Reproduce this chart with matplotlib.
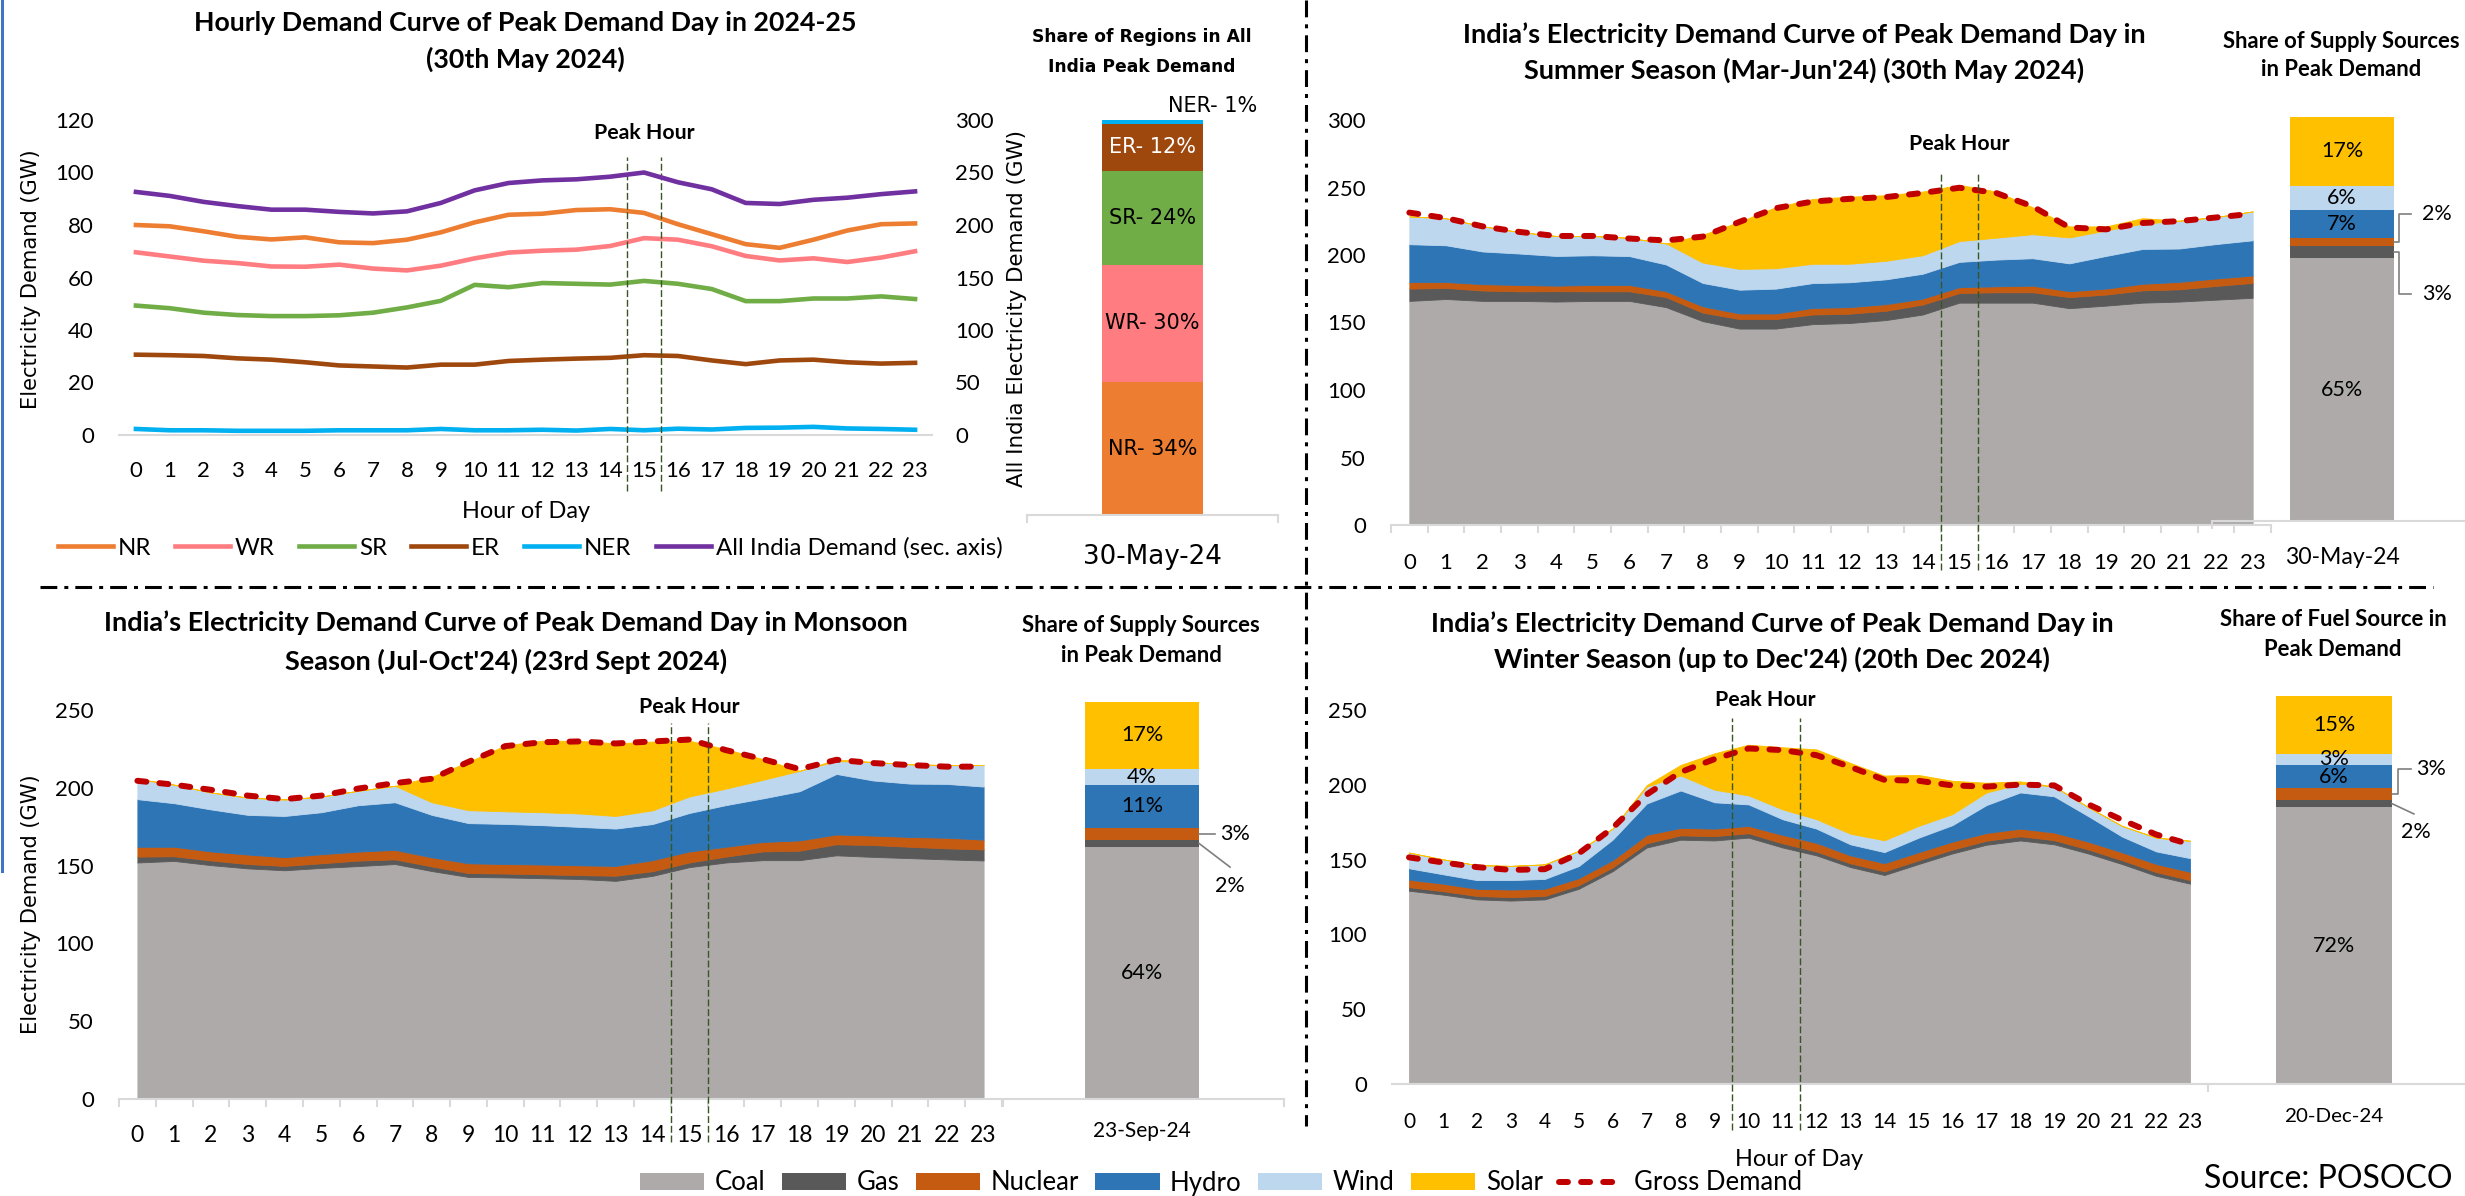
import numpy as np
import matplotlib
matplotlib.use("Agg")
import matplotlib.pyplot as plt
from matplotlib.lines import Line2D
from matplotlib.patches import Patch

plt.rcParams["font.family"] = ["Lato", "DejaVu Sans"]

W, H = 2465, 1196

hours = list(range(24))

# 30 May 2024 - hourly regional demand (GW)
nr = [80.0, 79.5, 77.6, 75.5, 74.5, 75.3, 73.4, 73.1, 74.4, 77.2, 81.0, 83.9,
      84.3, 85.7, 86.0, 84.6, 80.3, 76.5, 72.7, 71.3, 74.4, 77.9, 80.3, 80.6]
wr = [69.6, 68.0, 66.4, 65.5, 64.2, 64.1, 64.9, 63.4, 62.7, 64.5, 67.3, 69.5,
      70.2, 70.6, 72.0, 75.0, 74.4, 71.9, 68.2, 66.5, 67.3, 65.9, 67.6, 70.0]
sr = [49.3, 48.3, 46.6, 45.7, 45.3, 45.3, 45.6, 46.6, 48.6, 51.1, 57.2, 56.3,
      57.9, 57.6, 57.3, 58.7, 57.6, 55.6, 51.0, 51.0, 52.0, 52.0, 52.8, 51.8]
er = [30.6, 30.4, 30.1, 29.2, 28.7, 27.7, 26.5, 26.1, 25.7, 26.8, 26.8, 28.2,
      28.7, 29.1, 29.4, 30.4, 30.1, 28.4, 27.0, 28.4, 28.7, 27.7, 27.2, 27.5]
ner = [2.3, 1.8, 1.8, 1.6, 1.6, 1.6, 1.8, 1.8, 1.8, 2.3, 1.8, 1.8,
       2.0, 1.7, 2.3, 1.8, 2.4, 2.1, 2.7, 2.8, 3.1, 2.5, 2.3, 2.0]
all_india = [231.5, 227.7, 222.0, 218.0, 214.6, 214.6, 212.5, 211.0, 213.0, 221.0, 233.0, 240.0,
             242.5, 243.5, 246.0, 250.0, 240.7, 234.0, 221.0, 220.0, 224.0, 226.0, 229.4, 232.0]
region_names = ["NR", "WR", "SR", "ER", "NER"]
region_share = [34, 30, 24, 12, 1]

# summer peak day (30 May 2024) - supply by source (GW)
summer_coal = [166.0, 167.4, 166.0, 166.0, 165.5, 166.0, 166.0, 161.4, 151.0, 145.5, 145.5, 148.8,
               149.6, 151.8, 155.9, 164.7, 164.7, 164.7, 160.6, 162.5, 164.7, 165.5, 166.9, 168.3]
summer_gas = [9.1, 8.2, 7.7, 7.1, 7.7, 7.1, 7.1, 7.4, 6.3, 7.1, 7.1, 7.1,
              6.9, 6.9, 7.4, 7.1, 7.7, 7.7, 8.2, 8.2, 9.1, 9.1, 10.2, 11.0]
summer_nuclear = [4.9, 4.4, 4.7, 4.7, 4.1, 4.7, 4.7, 4.4, 4.7, 4.1, 4.1, 4.9,
                  4.9, 4.9, 4.4, 4.4, 4.4, 4.9, 4.4, 4.4, 4.9, 5.5, 5.5, 5.5]
summer_hydro = [28.0, 27.2, 24.2, 23.3, 22.0, 22.0, 21.4, 19.8, 17.3, 17.6, 18.4, 18.4,
                18.4, 18.4, 18.4, 18.7, 19.8, 20.3, 20.6, 24.2, 25.8, 24.7, 25.5, 26.1]
summer_wind = [20.6, 20.0, 18.7, 15.9, 14.8, 14.3, 13.5, 15.6, 15.1, 15.4, 15.1, 14.3,
               13.7, 13.7, 13.7, 15.4, 16.2, 17.8, 19.2, 18.9, 18.7, 20.6, 20.0, 21.4]
summer_solar = [0, 0, 0, 0, 0, 0, 0, 0, 20.6, 34.9, 45.3, 48.0,
                49.7, 48.6, 47.2, 41.7, 34.3, 20.0, 8.2, 3.0, 4.1, 0, 0, 0]
summer_gross = [231.4, 227.3, 221.2, 217.1, 214.1, 214.1, 212.2, 210.8, 213.6, 224.5, 234.7, 239.6,
                241.6, 242.9, 246.0, 249.8, 246.0, 236.0, 220.4, 219.0, 223.7, 225.1, 227.8, 230.6]
summer_share = [65, 3, 2, 7, 6, 17]

# monsoon peak day (23 Sep 2024)
monsoon_coal = [152.0, 153.0, 150.3, 148.2, 147.0, 148.5, 149.7, 151.0, 146.5, 142.7, 142.4, 141.9,
                141.4, 140.2, 143.4, 149.0, 152.0, 153.5, 153.5, 156.6, 155.6, 154.8, 154.0, 153.3]
monsoon_gas = [3.8, 3.0, 3.0, 2.8, 2.8, 3.0, 3.5, 3.0, 3.0, 2.5, 2.5, 2.5,
               2.5, 3.3, 3.0, 3.0, 3.8, 5.6, 6.1, 7.1, 7.6, 7.3, 7.1, 7.1]
monsoon_nuclear = [6.3, 6.1, 5.8, 6.1, 5.6, 5.8, 5.8, 6.1, 5.8, 6.3, 6.1, 6.3,
                   6.3, 6.3, 7.1, 7.1, 6.3, 6.1, 6.6, 6.3, 6.1, 6.3, 6.8, 6.3]
monsoon_hydro = [30.6, 28.0, 27.0, 25.5, 26.5, 27.0, 29.8, 30.6, 27.3, 25.8, 25.8, 25.3,
                 24.7, 24.0, 23.2, 24.7, 26.8, 28.0, 31.6, 38.9, 35.4, 34.3, 34.6, 34.1]
monsoon_wind = [13.1, 11.9, 10.9, 11.1, 10.6, 10.1, 9.3, 10.6, 8.1, 8.3, 8.1, 8.3,
                8.6, 8.1, 8.8, 10.6, 10.6, 11.9, 13.1, 8.3, 11.9, 12.4, 12.1, 13.9]
monsoon_solar = [0, 0, 0, 0, 0, 0, 0, 0, 16.4, 31.1, 42.4, 46.0,
                 46.7, 46.7, 44.2, 35.9, 25.3, 13.4, 0, 1.0, 0, 0, 0, 0]
monsoon_gross = [204.5, 202.0, 198.7, 195.0, 192.7, 195.0, 199.5, 203.0, 205.8, 216.7, 226.8, 229.3,
                 229.8, 228.5, 229.8, 231.0, 224.2, 218.4, 212.0, 218.0, 215.9, 214.6, 213.6, 213.6]
monsoon_share = [64, 2, 3, 11, 4, 17]

# winter peak day (20 Dec 2024)
winter_coal = [129.2, 126.6, 123.4, 122.6, 123.4, 130.5, 142.3, 158.1, 163.3, 162.8, 164.7, 158.1,
               152.8, 145.0, 139.7, 147.0, 154.1, 159.9, 162.8, 160.2, 154.1, 147.0, 139.2, 133.9]
winter_gas = [2.4, 2.3, 2.3, 2.3, 2.3, 2.4, 2.5, 2.8, 2.9, 2.9, 2.9, 2.8,
              2.6, 2.5, 2.5, 2.5, 2.6, 2.7, 2.8, 2.8, 2.7, 2.6, 2.5, 2.4]
winter_nuclear = [5.0, 5.0, 4.8, 5.1, 4.8, 4.7, 4.9, 5.6, 5.0, 5.0, 4.9, 5.6,
                  5.8, 5.3, 5.4, 5.4, 5.3, 5.2, 5.1, 5.1, 5.2, 5.3, 5.4, 5.5]
winter_hydro = [7.6, 6.3, 5.8, 6.3, 6.6, 8.1, 13.7, 21.0, 25.0, 17.6, 14.4, 10.5,
                9.5, 7.4, 7.4, 9.7, 11.0, 18.6, 24.2, 24.2, 17.1, 10.5, 8.4, 9.2]
winter_wind = [10.5, 10.0, 10.0, 9.5, 9.7, 10.2, 7.4, 11.3, 10.0, 8.4, 6.0, 6.6,
               6.3, 7.1, 7.9, 7.9, 7.4, 8.4, 5.8, 6.6, 6.0, 7.1, 9.2, 11.6]
winter_solar = [0, 0, 0, 0, 0, 0, 0, 1.0, 7.1, 24.4, 33.9, 41.5,
                46.7, 47.3, 43.3, 34.1, 22.3, 6.6, 1.6, 0, 0, 0, 0, 0]
winter_gross = [151.5, 148.1, 145.0, 143.1, 143.6, 154.1, 171.2, 193.5, 208.5, 217.2, 224.3, 223.2,
                219.8, 211.9, 203.3, 202.7, 199.6, 198.8, 200.1, 199.6, 187.0, 176.5, 166.8, 160.2]
winter_share = [72, 2, 3, 6, 3, 15]

source_names = ["Coal", "Gas", "Nuclear", "Hydro", "Wind", "Solar"]
source_colors = ["#AEAAAA", "#595959", "#C55A11", "#2E75B6", "#BDD7EE", "#FFC000"]
region_colors = ["#ED7D31", "#FF7C80", "#70AD47", "#9E480E", "#00B0F0"]
INDIA_COLOR = "#7030A0"
GROSS_COLOR = "#C00000"
GROSS_STYLE = dict(color=GROSS_COLOR, lw=4.3, ls=(0, (1.5, 2.2)), dash_capstyle="round")
AXIS_GREY = "#D9D9D9"
PEAK_COLOR = "#375623"

fig = plt.figure(figsize=(W / 100, H / 100), dpi=100)
renderer = fig.canvas.get_renderer()


def box(x0, y0, x1, y1):
    return [x0 / W, 1 - y1 / H, (x1 - x0) / W, (y1 - y0) / H]


def put(x, y, s, span=None, **kw):
    """Figure text at pixel (x, y); if span is given, scale the font to that pixel length."""
    kw.setdefault("ha", "center")
    kw.setdefault("va", "center")
    t = fig.text(x / W, 1 - y / H, s, **kw)
    if span:
        ext = t.get_window_extent(renderer)
        size = ext.height if kw.get("rotation") == 90 else ext.width
        t.set_fontsize(t.get_fontsize() * span / size)
    return t


def two_lines(x, y1, y2, first, second, span, **kw):
    """Two-line heading; the first line sets the font size for both."""
    t = put(x, y1, first, span=span, **kw)
    kw["fontsize"] = t.get_fontsize()
    put(x, y2, second, **kw)


def fig_line(xs, ys, **kw):
    fig.add_artist(Line2D([x / W for x in xs], [1 - y / H for y in ys], **kw))


def strip(ax):
    for side in ("top", "right", "left"):
        ax.spines[side].set_visible(False)
    ax.spines["bottom"].set_color(AXIS_GREY)
    ax.spines["bottom"].set_linewidth(1.5)


def peak_lines(ax, x0, x1, lo, hi):
    for x in (x0, x1):
        ax.axvline(x, ymin=lo, ymax=hi, color=PEAK_COLOR, lw=1.0,
                   ls=(0, (5, 2)), clip_on=False, zorder=5)


def peak_label(ax, x, y):
    t = ax.text(x, y, "Peak Hour", ha="center", va="center", fontsize=14, fontweight="bold")
    t.set_fontsize(14 * 101 / t.get_window_extent(renderer).width)


# ---------------- hourly regional demand (top left) ----------------
ax = fig.add_axes(box(119, 120, 932, 435))
handles = []
for vals, col, name in zip([nr, wr, sr, er, ner], region_colors, region_names):
    handles += ax.plot(hours, vals, color=col, lw=3.3, label=name, solid_joinstyle="round")
ax.set_xlim(-0.5, 23.5)
ax.set_ylim(0, 120)
ax.set_xticks(hours)
ax.set_yticks(range(0, 121, 20))
strip(ax)
ax.tick_params(axis="both", length=0, labelsize=16)
ax.tick_params(axis="y", pad=18)
ax.tick_params(axis="x", pad=19)
ax2 = ax.twinx()
handles += ax2.plot(hours, all_india, color=INDIA_COLOR, lw=3.3,
                    label="All India Demand (sec. axis)")
ax2.set_ylim(0, 300)
ax2.set_yticks(range(0, 301, 50))
for side in ax2.spines:
    ax2.spines[side].set_visible(False)
ax2.tick_params(axis="y", length=0, labelsize=16, pad=16.5)
peak_lines(ax, 14.5, 15.5, -0.178, 0.883)
peak_label(ax, 15, 115)

TITLE = dict(fontsize=19, fontweight="bold")
SUB = dict(fontsize=16, fontweight="bold")

two_lines(525, 23, 59, "Hourly Demand Curve of Peak Demand Day in 2024-25", "(30th May 2024)",
          661, **TITLE)
put(31, 279, "Electricity Demand (GW)", span=261, rotation=90, fontsize=14, family="DejaVu Sans")
put(526, 511, "Hour of Day", span=128, fontsize=17)
fig.legend(handles, [h.get_label() for h in handles], loc="center",
           bbox_to_anchor=(530 / W, 1 - 548 / H), ncol=6, frameon=False,
           fontsize=17.3, handlelength=2.3, handletextpad=0.2, columnspacing=1.0)


# ---------------- share bars ----------------
def share_bar(rect, values, colors, center, width, top, date, date_y, date_span, date_kw):
    bx = fig.add_axes(box(*rect))
    bx.patch.set_visible(False)
    bottoms = np.concatenate([[0], np.cumsum(values)[:-1]])
    bx.bar([center] * len(values), values, width=width, bottom=bottoms,
           color=colors, linewidth=0)
    bx.set_xlim(0, 1)
    bx.set_ylim(0, top)
    strip(bx)
    bx.set_yticks([])
    bx.set_xticks([0, 1])
    bx.set_xticklabels([])
    bx.tick_params(axis="x", length=6, width=1.5, color=AXIS_GREY)
    cx = rect[0] + center * (rect[2] - rect[0])
    put(cx, date_y, date, span=date_span, **date_kw)
    mids = bottoms + np.asarray(values) / 2
    return bx, mids, center + width / 2


# regional split of the all-India peak
bx, mids, edge = share_bar((1027, 120, 1278, 515), region_share, region_colors, 0.5, 0.40, 101,
                           "30-May-24", 557, 139, dict(fontsize=20, family="DejaVu Sans"))
for i, (name, pct) in enumerate(zip(region_names[:4], region_share[:4])):
    bx.text(0.5, mids[i], f"{name}- {pct}%", ha="center", va="center", fontsize=15,
            family="DejaVu Sans", color="white" if name == "ER" else "black")
bx.text(0.741, 104.7, f"{region_names[4]}- {region_share[4]}%", ha="center", va="center",
        fontsize=15, family="DejaVu Sans")
two_lines(1142, 37, 67, "Share of Regions in All", "India Peak Demand", 220,
          fontsize=12.5, fontweight="bold", family="DejaVu Sans")
put(1017, 308, "All India Electricity Demand (GW)", span=357, rotation=90, fontsize=14.5,
    family="DejaVu Sans")


def mix_labels(bx, share, mids):
    for i in (0, 3, 4, 5):
        p = bx.patches[i]
        bx.text(p.get_x() + p.get_width() / 2, mids[i], f"{share[i]}%",
                ha="center", va="center", fontsize=15.5)


def leader(bx, pts, txt, tx, ty, ha="center"):
    bx.plot([p[0] for p in pts], [p[1] for p in pts], color="#7F7F7F", lw=1.2, clip_on=False)
    bx.text(tx, ty, txt, ha=ha, va="center", fontsize=15.5)


# ---------------- seasonal supply mix charts ----------------
def season_chart(rect, stack, gross, ymax, tick_fs, xpad, span, lo, hi, label_xy, marks):
    sx = fig.add_axes(box(*rect))
    sx.stackplot(hours, *stack, colors=source_colors, linewidth=0.6, edgecolor="face")
    sx.plot(hours, gross, zorder=4, **GROSS_STYLE)
    sx.set_xlim(-0.5, 23.5)
    sx.set_ylim(0, ymax)
    sx.set_xticks(hours)
    sx.set_yticks(range(0, ymax + 1, 50))
    strip(sx)
    sx.tick_params(axis="x", length=0, labelsize=tick_fs, pad=xpad)
    sx.tick_params(axis="y", length=0, labelsize=16, pad=18)
    if marks:
        sx.set_xticks(np.arange(-0.5, 24, 1), minor=True)
        sx.tick_params(axis="x", which="minor", length=6, width=1.5, color=AXIS_GREY)
    peak_lines(sx, span[0], span[1], lo, hi)
    peak_label(sx, *label_xy)
    return sx


summer = [summer_coal, summer_gas, summer_nuclear, summer_hydro, summer_wind, summer_solar]
monsoon = [monsoon_coal, monsoon_gas, monsoon_nuclear, monsoon_hydro, monsoon_wind, monsoon_solar]
winter = [winter_coal, winter_gas, winter_nuclear, winter_hydro, winter_wind, winter_solar]

# summer (top right)
season_chart((1391, 120, 2271, 525), summer, summer_gross, 300, 16, 20,
             (14.5, 15.5), -0.111, 0.867, (15, 282), True)
two_lines(1804, 35, 70, "India\u2019s Electricity Demand Curve of Peak Demand Day in",
          "Summer Season (Mar-Jun'24) (30th May 2024)", 682, **TITLE)
two_lines(2341, 41, 70, "Share of Supply Sources", "in Peak Demand", 237, **SUB)
bx, mids, edge = share_bar((2212, 117, 2480, 521), summer_share, source_colors, 0.485, 0.388, 100,
                           "30-May-24", 557, 115, dict(fontsize=17))
mix_labels(bx, summer_share, mids)
leader(bx, [(edge, mids[2]), (0.698, mids[2]), (0.698, 76), (0.743, 76)], f"{summer_share[2]}%", 0.84, 76)
leader(bx, [(edge, mids[1]), (0.698, mids[1]), (0.698, 56.3), (0.743, 56.3)], f"{summer_share[1]}%", 0.84, 56.3)

# monsoon (bottom left)
season_chart((119, 710, 1002, 1099), monsoon, monsoon_gross, 250, 16.5, 19,
             (14.5, 15.5), -0.11, 0.967, (15, 252), True)
put(31, 904, "Electricity Demand (GW)", span=261, rotation=90, fontsize=14, family="DejaVu Sans")
two_lines(506, 623, 661, "India\u2019s Electricity Demand Curve of Peak Demand Day in Monsoon",
          "Season (Jul-Oct'24) (23rd Sept 2024)", 804, **TITLE)
two_lines(1141, 626, 655, "Share of Supply Sources", "in Peak Demand", 238, **SUB)
bx, mids, edge = share_bar((1003, 702, 1284, 1099), monsoon_share, source_colors, 0.495, 0.406, 101,
                           "23-Sep-24", 1131, 98, dict(fontsize=15))
mix_labels(bx, monsoon_share, mids)
leader(bx, [(edge, mids[2]), (0.754, mids[2])], f"{monsoon_share[2]}%", 0.772, mids[2], ha="left")
leader(bx, [(edge, mids[1]), (0.808, 59)], f"{monsoon_share[1]}%", 0.808, 54.2)

# winter (bottom right)
season_chart((1392, 710, 2207, 1084), winter, winter_gross, 250, 15, 20,
             (9.5, 11.5), -0.123, 0.979, (10.5, 257), False)
two_lines(1772, 624, 659, "India\u2019s Electricity Demand Curve of Peak Demand Day in",
          "Winter Season (up to Dec'24) (20th Dec 2024)", 681, **TITLE)
two_lines(2333, 620, 650, "Share of Fuel Source in", "Peak Demand", 227, **SUB)
put(1799, 1160, "Hour of Day", span=128, fontsize=17)
bx, mids, edge = share_bar((2208, 696, 2480, 1084), winter_share, source_colors, 0.463, 0.426, 101,
                           "20-Dec-24", 1116, 99, dict(fontsize=15))
mix_labels(bx, winter_share, mids)
leader(bx, [(edge, mids[2]), (0.699, mids[2]), (0.699, 82), (0.746, 82)], f"{winter_share[2]}%", 0.82, 82)
leader(bx, [(edge, mids[1]), (0.757, 70.3)], f"{winter_share[1]}%", 0.765, 65.6)

# shared legend for the supply-mix panels
mix_handles = [Patch(facecolor=c, edgecolor="none") for c in source_colors]
mix_handles.append(Line2D([], [], **GROSS_STYLE))
fig.legend(mix_handles, source_names + ["Gross Demand"], loc="center",
           bbox_to_anchor=(1221 / W, 1 - 1183 / H), ncol=7, frameon=False, fontsize=18.5,
           handlelength=2.5, handleheight=0.62, handletextpad=0.4, columnspacing=0.65)
put(2452, 1179, "Source: POSOCO", span=249, ha="right", fontsize=23)

# panel dividers
divider = dict(color="black", lw=2.2, ls=(0, (5.5, 2.3, 1.3, 2.3)))
fig_line([1306, 1306], [0, 1126], **divider)
fig_line([40, 2433], [587, 587], **divider)
fig_line([2, 2], [0, 871], color="#4472C4", lw=2.2)

fig.savefig("out.png", dpi=100)
